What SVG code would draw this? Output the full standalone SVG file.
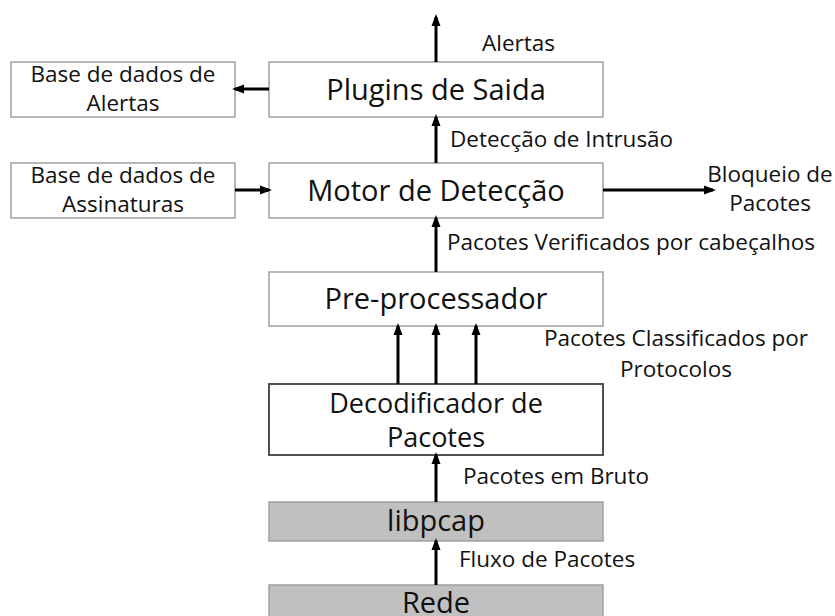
<svg xmlns="http://www.w3.org/2000/svg" width="835" height="616" viewBox="0 0 835 616">
<defs>
<marker id="ah" markerWidth="12" markerHeight="16" refX="12" refY="6" orient="auto" markerUnits="userSpaceOnUse" viewBox="0 0 16 12">
<path d="M0,0 L16,6 L0,12 Z" fill="#000"/>
</marker>
<style>
.box{fill:#fff;stroke:#a0a0a0;stroke-width:1.5}
.dark{fill:#fff;stroke:#505050;stroke-width:2}
.gray{fill:#c0c0c0;stroke:#a0a0a0;stroke-width:1.5}
text{font-family:"Open Sans","Noto Sans",sans-serif;fill:#111}
.big{font-size:29px;text-anchor:middle}
.big2{font-size:27px;text-anchor:middle}
.sm{font-size:22.5px}
.smc{font-size:22.5px;text-anchor:middle}
.conn line{stroke:#000;stroke-width:3;marker-end:url(#ah)}
</style>
</defs>
<rect width="835" height="616" fill="#fff"/>
<g id="base-alertas">
<rect class="box" x="11" y="62" width="224" height="55"/>
<text class="smc" x="123" y="82">Base de dados de</text>
<text class="smc" x="123" y="111">Alertas</text>
</g>
<g id="plugins">
<rect class="box" x="269" y="62" width="334" height="55"/>
<text class="big" x="436" y="100">Plugins de Saida</text>
</g>
<g id="base-assinaturas">
<rect class="box" x="11" y="163" width="224" height="55"/>
<text class="smc" x="123" y="183">Base de dados de</text>
<text class="smc" x="123" y="212">Assinaturas</text>
</g>
<g id="motor">
<rect class="box" x="269" y="163" width="334" height="55"/>
<text class="big" x="436" y="201">Motor de Detecção</text>
</g>
<g id="pre">
<rect class="box" x="269" y="272" width="334" height="54"/>
<text class="big" x="436" y="309">Pre-processador</text>
</g>
<g id="decod">
<rect class="dark" x="269" y="384" width="334" height="71"/>
<text class="big2" x="436" y="413">Decodificador de</text>
<text class="big2" x="436" y="447">Pacotes</text>
</g>
<g id="libpcap">
<rect class="gray" x="269" y="502" width="334" height="39"/>
<text class="big" x="436" y="531">libpcap</text>
</g>
<g id="rede">
<rect class="gray" x="269" y="585" width="334" height="40"/>
<text class="big" x="436" y="613">Rede</text>
</g>
<g id="labels">
<text class="sm" x="482" y="51">Alertas</text>
<text class="sm" x="450" y="147">Detecção de Intrusão</text>
<text class="smc" x="770" y="182">Bloqueio de</text>
<text class="smc" x="770" y="211">Pacotes</text>
<text class="sm" x="447" y="250">Pacotes Verificados por cabeçalhos</text>
<text class="smc" x="676" y="346">Pacotes Classificados por</text>
<text class="smc" x="676" y="377">Protocolos</text>
<text class="sm" x="463" y="484">Pacotes em Bruto</text>
<text class="sm" x="459" y="567">Fluxo de Pacotes</text>
</g>
<g id="connectors" class="conn">
<line x1="436" y1="62" x2="436" y2="17"/>
<line x1="269" y1="89" x2="235" y2="89"/>
<line x1="436" y1="163" x2="436" y2="117"/>
<line x1="235" y1="190" x2="269" y2="190"/>
<line x1="603" y1="190" x2="713" y2="190"/>
<line x1="436" y1="272" x2="436" y2="218"/>
<line x1="398" y1="384" x2="398" y2="326"/>
<line x1="436" y1="384" x2="436" y2="326"/>
<line x1="476" y1="384" x2="476" y2="326"/>
<line x1="436" y1="502" x2="436" y2="455"/>
<line x1="436" y1="585" x2="436" y2="541"/>
</g>
</svg>
